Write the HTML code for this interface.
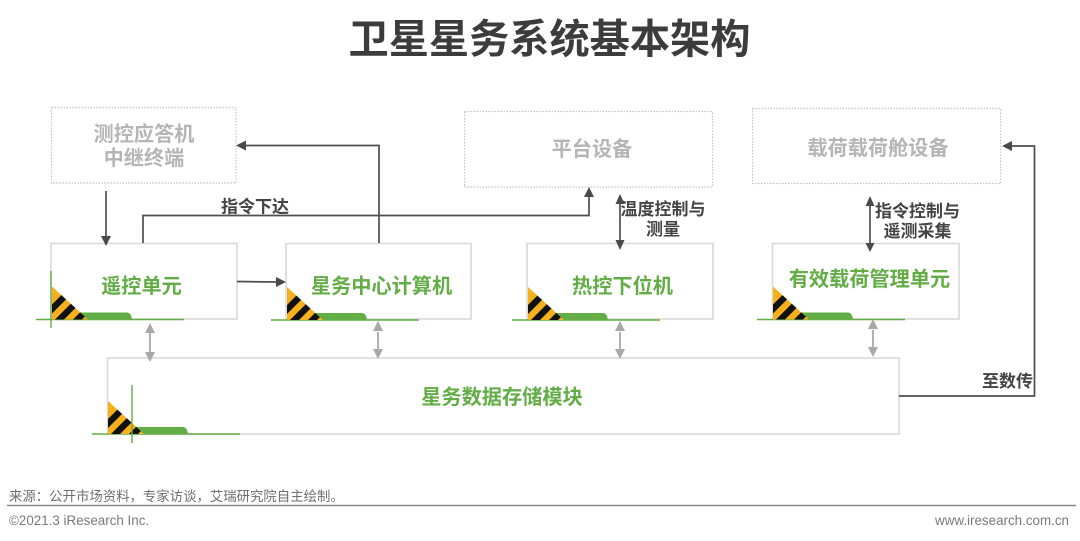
<!DOCTYPE html>
<html lang="zh">
<head>
<meta charset="utf-8">
<style>
html,body{margin:0;padding:0;background:#fff;width:1080px;height:541px;overflow:hidden}
svg{display:block}
text{font-family:"Liberation Sans","Noto Sans CJK SC",sans-serif}
.t{font-weight:700;font-size:40.2px;fill:#3c3c3c}
.g{font-weight:700;font-size:20.2px;fill:#62ad45;text-anchor:middle}
.d{font-weight:700;font-size:20.2px;fill:#b5b5b5;text-anchor:middle}
.l{font-weight:700;font-size:17px;fill:#444;text-anchor:middle}
.box{fill:#fff;stroke:#d9d9d9;stroke-width:1.6}
.dot{fill:#fff;stroke:#c4c4c4;stroke-width:1.2;stroke-dasharray:1.5 1.5}
.ln{fill:none;stroke:#4f4f4f;stroke-width:1.7}
.gl{fill:none;stroke:#a9a9a9;stroke-width:1.8}
</style>
</head>
<body>
<svg width="1080" height="541" viewBox="0 0 1080 541" xmlns="http://www.w3.org/2000/svg">
<defs>
<clipPath id="tri"><polygon points="1,-33 1,0 37,0"/></clipPath>
<g id="ic">
<path d="M29,0 V-7 H76 Q80,-7 81,0 Z" fill="#62ad45"/>
<line x1="-15" y1="0" x2="133" y2="0" stroke="#62ad45" stroke-width="1.4"/>
<polygon points="1,-33 1,0 37,0" fill="#f5b11d"/>
<g clip-path="url(#tri)" fill="#111">
<polygon points="-5,-9 31,-45 40,-45 -5,0"/>
<polygon points="-5,9 49,-45 58,-45 -5,18"/>
<polygon points="-5,27 67,-45 76,-45 -5,36"/>
</g>
</g>
</defs>

<text x="549.500" y="53" class="t" text-anchor="middle">卫星星务系统基本架构</text>

<rect class="dot" x="51.5" y="107.5" width="184.5" height="75.5"/>
<rect class="dot" x="464.5" y="111.5" width="248" height="75.5"/>
<rect class="dot" x="752.5" y="108.5" width="248" height="75"/>
<text class="d" x="144" y="141">测控应答机</text>
<text class="d" x="144" y="165">中继终端</text>
<text class="d" x="592" y="156">平台设备</text>
<text class="d" x="878" y="155">载荷载荷舱设备</text>

<rect class="box" x="51" y="243.5" width="186" height="75.5"/>
<rect class="box" x="286" y="243.5" width="185" height="75.5"/>
<rect class="box" x="527" y="243.5" width="186" height="75.5"/>
<rect class="box" x="772.5" y="243.5" width="186.5" height="75.5"/>
<rect class="box" x="107.5" y="358" width="791.5" height="76"/>

<use href="#ic" x="51" y="319.500"/>
<use href="#ic" x="286" y="320"/>
<use href="#ic" x="527" y="320"/>
<use href="#ic" x="772" y="319.500"/>
<use href="#ic" x="107" y="434"/>
<line x1="51" y1="271" x2="51" y2="328" stroke="#62ad45" stroke-width="1.4"/>
<line x1="132" y1="385" x2="132" y2="443" stroke="#62ad45" stroke-width="1.4"/>

<text class="g" x="141.500" y="293">遥控单元</text>
<text class="g" x="381.500" y="293">星务中心计算机</text>
<text class="g" x="622.500" y="293">热控下位机</text>
<text class="g" x="869.500" y="286">有效载荷管理单元</text>
<text class="g" x="502" y="404">星务数据存储模块</text>

<!-- dark connectors -->
<path class="ln" d="M106,191 V236"/>
<polygon points="101,236 111,236 106,246" fill="#4a4a4a"/>
<path class="ln" d="M143,243 V215.500 H589 V196"/>
<polygon points="584,197 594,197 589,187" fill="#4a4a4a"/>
<path class="ln" d="M379,243 V145.500 H246"/>
<polygon points="246,140.500 246,150.500 236,145.500" fill="#4a4a4a"/>
<path class="ln" d="M237,281.500 L277,282"/>
<polygon points="276,277 276,287 286,282" fill="#4a4a4a"/>
<path class="ln" d="M620,202 V242"/>
<polygon points="615.500,204 624.500,204 620,194" fill="#4a4a4a"/>
<polygon points="615.500,240 624.500,240 620,250" fill="#4a4a4a"/>
<path class="ln" d="M870,205 V244"/>
<polygon points="865.500,206 874.500,206 870,196" fill="#4a4a4a"/>
<polygon points="865.500,243 874.500,243 870,252" fill="#4a4a4a"/>
<path class="ln" d="M899,396 H1034.500 V146 H1012"/>
<polygon points="1012,141 1012,151 1002,146" fill="#4a4a4a"/>

<!-- gray connectors -->
<g>
<path class="gl" d="M150,332 V352"/><polygon points="145,333 155,333 150,323" fill="#a9a9a9"/><polygon points="145,352 155,352 150,362" fill="#a9a9a9"/>
<path class="gl" d="M378,332 V350"/><polygon points="373,331 383,331 378,321" fill="#a9a9a9"/><polygon points="373,349 383,349 378,359" fill="#a9a9a9"/>
<path class="gl" d="M620,332 V350"/><polygon points="615,331 625,331 620,321" fill="#a9a9a9"/><polygon points="615,349 625,349 620,359" fill="#a9a9a9"/>
<path class="gl" d="M873,330 V348"/><polygon points="868,329 878,329 873,319" fill="#a9a9a9"/><polygon points="868,347 878,347 873,357" fill="#a9a9a9"/>
</g>

<text class="l" x="255" y="212.500">指令下达</text>
<text class="l" x="663" y="215">温度控制与</text>
<text class="l" x="663" y="235">测量</text>
<text class="l" x="917.500" y="217">指令控制与</text>
<text class="l" x="917.500" y="237">遥测采集</text>
<text class="l" x="1007.500" y="387">至数传</text>

<text x="9" y="501" font-size="13.400" fill="#6e6e6e">来源：公开市场资料，专家访谈，艾瑞研究院自主绘制。</text>
<line x1="7" y1="505.500" x2="1076" y2="505.500" stroke="#8a8a8a" stroke-width="1.6"/>
<text x="9" y="525" font-size="13.400" fill="#7a7a7a">©2021.3 iResearch Inc.</text>
<text x="1069" y="525" font-size="13.400" fill="#7a7a7a" text-anchor="end">www.iresearch.com.cn</text>
</svg>
</body>
</html>
